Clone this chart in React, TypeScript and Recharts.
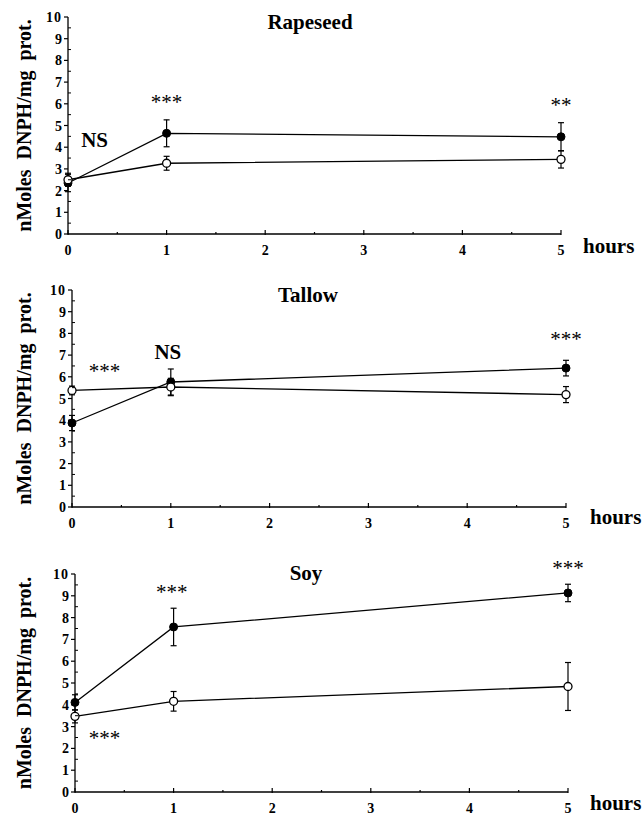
import React from "react";
import { LineChart, Line, XAxis, YAxis, ErrorBar, ReferenceDot } from "recharts";

const HOURS = [0, 1, 5];
const X_TICKS = [0, 0.5, 1, 1.5, 2, 2.5, 3, 3.5, 4, 4.5, 5];
const Y_TICKS = [
  0, 0.5, 1, 1.5, 2, 2.5, 3, 3.5, 4, 4.5, 5, 5.5, 6, 6.5, 7, 7.5, 8, 8.5, 9,
  9.5, 10,
];

// Rapeseed
const rapeseedFilled = [2.35, 4.64, 4.48];
const rapeseedFilledErr = [0.4, 0.62, 0.65];
const rapeseedOpen = [2.5, 3.26, 3.44];
const rapeseedOpenErr = [0.3, 0.32, 0.4];
const rapeseedNotes = [
  { x: 0.27, y: 4.35, text: "NS", bold: true },
  { x: 1, y: 6.1, text: "***", bold: false },
  { x: 5, y: 5.95, text: "**", bold: false },
];

// Tallow
const tallowFilled = [3.87, 5.76, 6.4];
const tallowFilledErr = [0.35, 0.6, 0.36];
const tallowOpen = [5.37, 5.53, 5.18];
const tallowOpenErr = [0.2, 0.4, 0.37];
const tallowNotes = [
  { x: 0.33, y: 6.3, text: "***", bold: false },
  { x: 0.97, y: 7.15, text: "NS", bold: true },
  { x: 5, y: 7.75, text: "***", bold: false },
];

// Soy
const soyFilled = [4.11, 7.57, 9.13];
const soyFilledErr = [0.35, 0.86, 0.4];
const soyOpen = [3.47, 4.16, 4.84];
const soyOpenErr = [0.3, 0.45, 1.1];
const soyNotes = [
  { x: 0.98, y: 9.2, text: "***", bold: false },
  { x: 0.3, y: 2.5, text: "***", bold: false },
  { x: 5, y: 10.3, text: "***", bold: false },
];

const FONT = "'Liberation Serif', 'Times New Roman', serif";

interface Note {
  x: number;
  y: number;
  text: string;
  bold: boolean;
}

interface PanelProps {
  title: string;
  filled: number[];
  filledErr: number[];
  open: number[];
  openErr: number[];
  notes: Note[];
  top: number;
  height: number;
  yAxisWidth: number;
  margin: { top: number; right: number; bottom: number; left: number };
  titleX: number;
  titleY: number;
  hoursX: number;
  hoursY: number;
}

function YTick({ x, y, payload }: any) {
  const v = payload.value;
  const major = Number.isInteger(v);
  return (
    <g>
      {major ? (
        <line x1={x - 4} x2={x} y1={y} y2={y} stroke="#000" strokeWidth={1.2} />
      ) : (
        <line x1={x} x2={x + 3} y1={y} y2={y} stroke="#000" strokeWidth={1} />
      )}
      {major && (
        <text
          x={x - 6}
          y={y}
          dy={5}
          textAnchor="end"
          fontSize={14}
          fontWeight="bold"
          fontFamily={FONT}
          letterSpacing={v === 10 ? 1 : 0}
          fill="#000"
        >
          {v}
        </text>
      )}
    </g>
  );
}

function XTick({ x, y, payload }: any) {
  const v = payload.value;
  const major = Number.isInteger(v);
  return (
    <g>
      <line
        x1={x}
        x2={x}
        y1={y + (major ? 1 : 0)}
        y2={y - (major ? 4 : 2)}
        stroke="#000"
        strokeWidth={1.2}
      />
      {major && (
        <text
          x={x}
          y={y + 16}
          dy={5}
          textAnchor="middle"
          fontSize={14}
          fontWeight="bold"
          fontFamily={FONT}
          fill="#000"
        >
          {v}
        </text>
      )}
    </g>
  );
}

function YLabel({ viewBox }: any) {
  const cx = viewBox.x + 14;
  const cy = viewBox.y + viewBox.height / 2;
  return (
    <text
      x={cx}
      y={cy}
      transform={`rotate(-90 ${cx} ${cy})`}
      textAnchor="middle"
      dominantBaseline="central"
      fontSize={20}
      fontWeight="bold"
      fontFamily={FONT}
      wordSpacing={5}
      fill="#000"
    >
      nMoles DNPH/mg prot.
    </text>
  );
}

function Panel(p: PanelProps) {
  const data = HOURS.map((h, i) => ({
    h,
    f: p.filled[i],
    fe: p.filledErr[i],
    o: p.open[i],
    oe: p.openErr[i],
  }));

  return (
    <div style={{ position: "absolute", left: 0, top: p.top, width: 644, height: p.height }}>
      <LineChart width={644} height={p.height} data={data} margin={p.margin}>
        <XAxis
          dataKey="h"
          type="number"
          domain={[0, 5]}
          ticks={X_TICKS}
          interval={0}
          height={22}
          tickSize={0}
          tickMargin={0}
          tickLine={false}
          tick={<XTick />}
          axisLine={{ stroke: "#000", strokeWidth: 1.3 }}
        />
        <YAxis
          type="number"
          domain={[0, 10]}
          ticks={Y_TICKS}
          interval={0}
          width={p.yAxisWidth}
          tickSize={0}
          tickMargin={0}
          tickLine={false}
          tick={<YTick />}
          axisLine={{ stroke: "#000", strokeWidth: 1.3 }}
          label={{ content: <YLabel /> }}
        />
        <Line
          dataKey="f"
          stroke="#000"
          strokeWidth={1.3}
          isAnimationActive={false}
          dot={{ r: 4, fill: "#000", stroke: "#000", strokeWidth: 1 }}
          activeDot={false}
        >
          <ErrorBar dataKey="fe" width={3} stroke="#000" strokeWidth={1.2} direction="y" />
        </Line>
        <Line
          dataKey="o"
          stroke="#000"
          strokeWidth={1.3}
          isAnimationActive={false}
          dot={{ r: 4, fill: "#fff", stroke: "#000", strokeWidth: 1.3 }}
          activeDot={false}
        >
          <ErrorBar dataKey="oe" width={3} stroke="#000" strokeWidth={1.2} direction="y" />
        </Line>
        {p.notes.map((n, i) => (
          <ReferenceDot
            key={i}
            x={n.x}
            y={n.y}
            r={1}
            fill="none"
            stroke="none"
            ifOverflow="visible"
            label={{
              value: n.text,
              position: "center",
              fill: "#000",
              fontSize: 21,
              fontWeight: n.bold ? "bold" : "normal",
              fontFamily: FONT,
            }}
          />
        ))}
      </LineChart>
      <div
        style={{
          position: "absolute",
          left: p.titleX,
          top: p.titleY,
          transform: "translate(-50%, -50%)",
          fontFamily: FONT,
          fontWeight: "bold",
          fontSize: 21,
          lineHeight: 1,
          whiteSpace: "nowrap",
        }}
      >
        {p.title}
      </div>
      <div
        style={{
          position: "absolute",
          left: p.hoursX,
          top: p.hoursY,
          transform: "translateY(-50%)",
          fontFamily: FONT,
          fontWeight: "bold",
          fontSize: 21,
          lineHeight: 1,
          whiteSpace: "nowrap",
        }}
      >
        hours
      </div>
    </div>
  );
}

export default function App() {
  return (
    <div
      style={{
        position: "absolute",
        left: 0,
        top: 0,
        width: 644,
        height: 815,
        overflow: "hidden",
        background: "#fff",
      }}
    >
      <Panel
        title="Rapeseed"
        filled={rapeseedFilled}
        filledErr={rapeseedFilledErr}
        open={rapeseedOpen}
        openErr={rapeseedOpenErr}
        notes={rapeseedNotes}
        top={0}
        height={270}
        yAxisWidth={58}
        margin={{ top: 17, right: 83, bottom: 14, left: 10 }}
        titleX={310}
        titleY={22}
        hoursX={583}
        hoursY={246}
      />
      <Panel
        title="Tallow"
        filled={tallowFilled}
        filledErr={tallowFilledErr}
        open={tallowOpen}
        openErr={tallowOpenErr}
        notes={tallowNotes}
        top={270}
        height={270}
        yAxisWidth={62}
        margin={{ top: 20, right: 78, bottom: 11, left: 10 }}
        titleX={308}
        titleY={25}
        hoursX={590}
        hoursY={247}
      />
      <Panel
        title="Soy"
        filled={soyFilled}
        filledErr={soyFilledErr}
        open={soyOpen}
        openErr={soyOpenErr}
        notes={soyNotes}
        top={540}
        height={275}
        yAxisWidth={65}
        margin={{ top: 34, right: 76, bottom: 1, left: 10 }}
        titleX={306}
        titleY={33}
        hoursX={590}
        hoursY={263}
      />
    </div>
  );
}
